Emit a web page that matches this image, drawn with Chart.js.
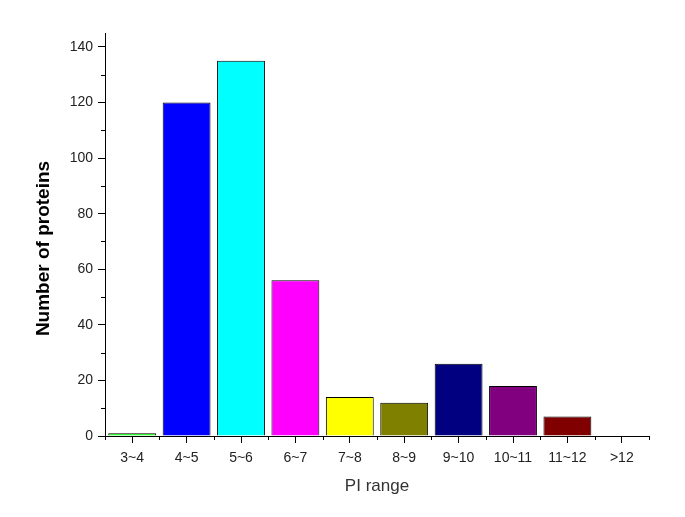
<!DOCTYPE html>
<html>
<head>
<meta charset="utf-8">
<script src="https://cdn.jsdelivr.net/npm/chart.js@4"></script>
<style>
  html, body { margin: 0; padding: 0; background: #fff; }
  canvas { display: block; }
</style>
</head>
<body>
<canvas id="c" width="685" height="517"></canvas>
<script>
const categories = ['3~4', '4~5', '5~6', '6~7', '7~8', '8~9', '9~10', '10~11', '11~12', '>12'];
const proteinCounts = [1, 120, 135, 56, 14, 12, 26, 18, 7, 0];
const barColors = ['#00FF00', '#0000FF', '#00FFFF', '#FF00FF', '#FFFF00', '#808000', '#000080', '#800080', '#800000', '#808080'];
const yTickValues = [0, 20, 40, 60, 80, 100, 120, 140];
const yMinorTickValues = [10, 30, 50, 70, 90, 110, 130];
const yTitleText = 'Number of proteins';
const xTitleText = 'PI range';

const FONT = '"Liberation Sans", Arial, sans-serif';

const minorTicks = {
  id: 'minorTicks',
  afterDraw(chart) {
    const ctx = chart.ctx;
    const x = chart.scales.x, y = chart.scales.y;
    ctx.save();
    ctx.strokeStyle = '#000';
    ctx.lineWidth = 1;
    ctx.beginPath();
    yMinorTickValues.forEach(v => {
      const py = Math.round(y.getPixelForValue(v)) + 0.5;
      ctx.moveTo(y.right - 4, py);
      ctx.lineTo(y.right, py);
    });
    for (let i = 0; i <= categories.length; i++) {
      const px = Math.round(x.getPixelForValue(i - 0.5)) + 0.5;
      ctx.moveTo(px, x.top);
      ctx.lineTo(px, x.top + 4);
    }
    ctx.stroke();
    // y axis title (rotated), positioned like the original
    ctx.fillStyle = '#000';
    ctx.font = 'bold 19px ' + FONT;
    ctx.textAlign = 'center';
    ctx.textBaseline = 'middle';
    ctx.translate(44, (chart.chartArea.top + chart.chartArea.bottom) / 2 + 14);
    ctx.rotate(-Math.PI / 2);
    ctx.fillText(yTitleText, 0, 0);
    ctx.restore();
  }
};

new Chart(document.getElementById('c'), {
  type: 'bar',
  data: {
    labels: categories,
    datasets: [{
      data: proteinCounts,
      backgroundColor: barColors,
      borderColor: '#000',
      borderWidth: 1,
      borderSkipped: 'bottom',
      barPercentage: 0.88,
      categoryPercentage: 1.0
    }]
  },
  options: {
    responsive: false,
    animation: false,
    devicePixelRatio: 1,
    layout: { padding: { top: 33, right: 36, left: 0, bottom: 0 } },
    plugins: { legend: { display: false }, tooltip: { enabled: false } },
    scales: {
      x: {
        offset: true,
        grid: { display: true, drawOnChartArea: false, drawTicks: true, tickLength: 7, color: '#000', offset: false },
        border: { display: true, color: '#000', width: 1 },
        ticks: { color: '#222', font: { family: FONT, size: 14 }, padding: 7, maxRotation: 0, autoSkip: false },
        title: { display: true, text: xTitleText, color: '#333', font: { family: FONT, size: 17 }, padding: { top: 10, bottom: 20 } },
        afterFit(scale) { scale.height = 81; }
      },
      y: {
        min: 0,
        max: 145,
        afterBuildTicks(scale) { scale.ticks = yTickValues.map(v => ({ value: v })); },
        grid: { display: true, drawOnChartArea: false, drawTicks: true, tickLength: 7, color: '#000' },
        border: { display: true, color: '#000', width: 1 },
        ticks: { color: '#222', font: { family: FONT, size: 14 }, padding: 5 },
        afterFit(scale) { scale.width = 105; }
      }
    }
  },
  plugins: [minorTicks]
});
</script>
</body>
</html>
